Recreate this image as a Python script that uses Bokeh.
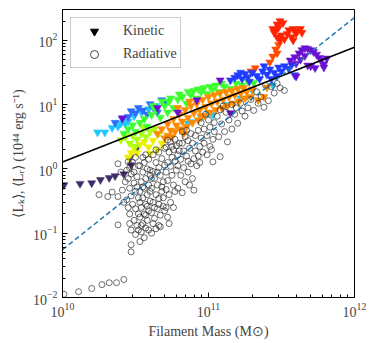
from bokeh.plotting import figure
from bokeh.models import (ColumnDataSource, Legend, LegendItem, Range1d,
                          FixedTicker, LogTickFormatter)
from bokeh.embed import file_html
from bokeh.resources import INLINE

# ---------------- data (log10 of mass [Msun] and luminosity [1e44 erg/s]) -------------
# Kinetic luminosity, grouped by marker colour
dpurple_m = [10.01, 10.12, 10.20, 10.26, 10.32, 10.36, 10.42, 10.47, 10.46, 10.51]
dpurple_l = [-0.25, -0.23, -0.22, -0.17, -0.14, -0.11, -0.08, 0.06, 0.17, 0.33]

cyan_m = [10.24, 10.29, 10.34, 10.40, 10.45, 10.49, 10.54, 10.59, 10.64, 10.38, 10.43,
          11.00, 10.86, 10.89, 10.95, 11.03, 11.12, 11.22, 11.30, 11.44]
cyan_l = [0.57, 0.57, 0.64, 0.71, 0.74, 0.82, 0.88, 0.93, 0.98, 0.66, 0.70,
          0.87, 0.71, 0.73, 0.80, 0.84, 1.00, 1.10, 1.22, 1.30]

bleft_m = [10.45, 10.50, 10.55, 10.60, 10.68, 10.36, 10.41, 10.47, 10.52, 10.62, 10.65, 10.58, 10.70]
bleft_l = [0.81, 0.87, 0.91, 1.01, 1.07, 0.72, 0.78, 0.90, 0.95, 0.96, 0.88, 0.85, 1.02]

green_m = [10.42, 10.45, 10.48, 10.50, 10.53, 10.56, 10.58, 10.61, 10.64, 10.67, 10.70, 10.73,
           10.76, 10.79, 10.82, 10.85, 10.88, 10.92, 10.95, 10.99, 11.03, 11.07, 11.11, 11.15,
           11.19, 11.23, 11.27, 11.31, 10.72, 10.90,
           10.62, 10.68, 10.74, 10.80, 10.86, 10.93, 10.97, 11.01, 11.05, 11.09]
green_l = [0.55, 0.62, 0.68, 0.58, 0.72, 0.78, 0.66, 0.84, 0.92, 0.80, 0.98, 1.05,
           0.95, 1.08, 1.12, 1.02, 1.15, 1.10, 1.20, 1.17, 1.24, 1.20, 1.28, 1.25,
           1.33, 1.30, 1.36, 1.34, 0.88, 1.22,
           0.98, 1.05, 1.10, 1.16, 1.20, 1.24, 1.26, 1.28, 1.30, 1.33]

lime_m = [10.40, 10.43, 10.46, 10.48, 10.51, 10.54, 10.57, 10.60, 10.63, 10.66, 10.55, 10.50]
lime_l = [0.45, 0.50, 0.40, 0.52, 0.46, 0.55, 0.50, 0.58, 0.62, 0.55, 0.65, 0.35]

yellow_m = [10.47, 10.49, 10.51, 10.53, 10.56, 10.59, 10.62, 10.65, 10.68, 10.60, 10.45]
yellow_l = [0.25, 0.33, 0.25, 0.38, 0.42, 0.34, 0.44, 0.30, 0.40, 0.24, 0.18]

orange_m = [10.65, 10.68, 10.70, 10.72, 10.74, 10.76, 10.78, 10.80, 10.82, 10.84, 10.86, 10.88,
            10.90, 10.92, 10.94, 10.96, 10.98, 11.00, 11.02, 11.04, 11.06, 11.08, 11.10, 11.12,
            11.14, 11.16, 11.18, 11.20, 11.22, 11.24, 11.26, 11.30, 11.34, 11.38, 10.83, 10.75,
            10.79, 10.87, 10.95, 11.05, 11.40,
            10.72, 10.77, 10.81, 10.85, 10.89, 10.93, 10.97, 11.01, 11.09, 11.13, 11.17, 11.21,
            11.25, 11.29]
orange_l = [0.55, 0.62, 0.48, 0.70, 0.60, 0.78, 0.68, 0.85, 0.74, 0.92, 0.80, 0.98,
            0.87, 1.02, 0.92, 1.08, 0.97, 1.12, 1.02, 1.15, 1.05, 1.18, 1.08, 1.20,
            1.12, 1.22, 1.15, 1.25, 1.18, 1.26, 1.20, 1.24, 1.07, 1.12, 0.55, 0.50,
            0.95, 1.05, 0.82, 0.92, 1.27,
            0.52, 0.58, 0.62, 0.66, 0.72, 0.76, 0.83, 0.88, 0.95, 0.98, 1.02, 1.05,
            1.10, 1.12]

dorange_m = [11.42, 11.44, 11.46, 11.48, 11.47, 11.29, 11.32]
dorange_l = [1.66, 1.75, 1.86, 1.93, 1.80, 1.52, 1.57]

red_m = [11.47, 11.49, 11.51, 11.48, 11.44, 11.45, 11.46, 11.47, 11.50, 11.52, 11.54, 11.49,
         11.55, 11.58, 11.61, 11.63, 11.64, 11.60, 11.57, 11.58]
red_l = [2.25, 2.30, 2.27, 2.20, 2.18, 2.12, 2.15, 2.05, 2.08, 2.02, 2.10, 2.00,
         2.16, 2.18, 2.15, 2.18, 2.12, 2.11, 2.05, 2.00]

blue_m = [11.15, 11.18, 11.20, 11.23, 11.25, 11.27, 11.30, 11.33, 11.35, 11.37, 11.40, 11.42,
          11.45, 11.48, 11.50, 11.52, 11.55, 11.57, 11.59, 11.43, 11.28, 11.38, 11.22, 11.47]
blue_l = [1.38, 1.42, 1.46, 1.40, 1.48, 1.43, 1.50, 1.45, 1.40, 1.52, 1.47, 1.55,
          1.50, 1.58, 1.52, 1.60, 1.56, 1.62, 1.46, 1.40, 1.36, 1.60, 1.50, 1.45]

violet_m = [11.56, 11.59, 11.62, 11.64, 11.66, 11.68, 11.70, 11.72, 11.74, 11.76, 11.77, 11.79,
            11.79, 11.73, 11.70, 11.68, 11.81, 11.60, 11.63, 11.66,
            11.08, 10.41, 10.65, 10.92, 10.79, 11.15, 11.60]
violet_l = [1.69, 1.74, 1.80, 1.85, 1.88, 1.87, 1.85, 1.82, 1.78, 1.73, 1.69, 1.63,
            1.58, 1.57, 1.60, 1.61, 1.72, 1.64, 1.70, 1.76,
            1.38, 0.79, 0.95, 1.07, 0.88, 0.87, 1.44]

kin_groups = [
    (dpurple_m, dpurple_l, "#3f2d6b"),
    (cyan_m, cyan_l, "#1ec8ff"),
    (bleft_m, bleft_l, "#2a6dff"),
    (yellow_m, yellow_l, "#eef000"),
    (lime_m, lime_l, "#a8ff10"),
    (green_m, green_l, "#3cff30"),
    (orange_m, orange_l, "#ff8a00"),
    (dorange_m, dorange_l, "#ff4a00"),
    (red_m, red_l, "#ff2200"),
    (blue_m, blue_l, "#1f3cff"),
    (violet_m, violet_l, "#6a10d2"),
]

# Radiative luminosity
rad_m = [10.01, 10.11, 10.20, 10.27, 10.32, 10.37, 10.42,
         10.25, 10.31, 10.34, 10.38, 10.38, 10.41, 10.42, 10.40, 10.38, 10.43,
         10.45, 10.46, 10.47, 10.48, 10.45, 10.49, 10.46, 10.50, 10.47, 10.51, 10.44, 10.48, 10.50,
         10.46, 10.49, 10.51, 10.47, 10.50, 10.47, 10.47, 10.52, 10.50, 10.45, 10.52, 10.52, 10.49,
         10.51, 10.44, 10.52, 10.46,
         10.53, 10.56, 10.54, 10.57, 10.55, 10.58, 10.53, 10.56, 10.59, 10.54, 10.57, 10.60, 10.55,
         10.58, 10.53, 10.56, 10.59, 10.54, 10.57, 10.60, 10.55, 10.58, 10.53, 10.56, 10.59, 10.57,
         10.54, 10.59, 10.58, 10.55, 10.60, 10.53, 10.57, 10.60, 10.55,
         10.61, 10.64, 10.62, 10.66, 10.63, 10.67, 10.61, 10.65, 10.69, 10.62, 10.66, 10.64, 10.68,
         10.61, 10.65, 10.69, 10.63, 10.67, 10.62, 10.66, 10.70, 10.64, 10.68, 10.62, 10.66, 10.70,
         10.67, 10.63, 10.69, 10.61, 10.65, 10.68, 10.64, 10.70, 10.66,
         10.72, 10.71, 10.74, 10.73, 10.77, 10.76, 10.72, 10.79, 10.75, 10.71, 10.78, 10.74, 10.72,
         10.77, 10.75, 10.79, 10.73, 10.76, 10.71, 10.78, 10.74, 10.77, 10.80, 10.80, 10.73, 10.76,
         10.71, 10.79, 10.75, 10.72,
         10.82, 10.87, 10.90, 10.84, 10.81, 10.86, 10.83, 10.88, 10.81, 10.85, 10.90, 10.83, 10.87,
         10.91, 10.82, 10.86, 10.89, 10.84, 10.88, 10.91, 10.85, 10.82, 10.89, 10.92, 10.86,
         10.93, 10.96, 10.99, 11.03, 10.94, 10.97, 11.01, 10.95, 10.99, 11.03, 10.93, 10.97, 11.01,
         11.04, 10.95, 11.00, 11.04, 10.98, 11.02, 10.94,
         11.08, 11.13, 11.07, 11.11, 11.16, 11.09, 11.14, 11.20, 11.06, 11.12, 11.18, 11.23, 11.10,
         11.16, 11.22, 11.25, 11.19, 11.08,
         11.27, 11.31, 11.38, 11.34, 11.29, 11.36, 11.41, 11.45, 11.49, 11.52, 11.43, 11.33, 11.39,
         11.47]
rad_l = [-1.95, -1.91, -1.86, -1.80, -1.77, -1.77, -1.72,
         -0.40, -0.43, -0.36, -0.43, -0.87, -0.33, -0.52, -0.05, 0.08, -0.20,
         0.11, 0.02, -0.08, 0.10, -0.15, -0.22, -0.30, -0.35, -0.42, -0.12, -0.48, -0.55, -0.62,
         -0.70, -0.80, -0.88, -0.95, -1.02, -1.18, -1.29, 0.05, 0.18, -0.60, -0.45, -0.70, -0.05,
         -0.28, -0.02, -0.95, -0.85,
         -1.13, -1.07, -0.98, -0.92, -0.85, -0.80, -0.75, -0.70, -0.65, -0.60, -0.55, -0.50, -0.45,
         -0.40, -0.35, -0.30, -0.25, -0.20, -0.15, -0.10, -0.05, 0.00, 0.05, 0.10, 0.15, 0.22,
         -0.88, -0.95, -0.58, -0.28, -0.35, -0.52, -0.72, -0.02, 0.18,
         -1.00, -0.93, -0.85, -0.88, -0.77, -0.72, -0.68, -0.62, -0.58, -0.52, -0.46, -0.40, -0.35,
         -0.30, -0.25, -0.20, -0.15, -0.10, -0.04, 0.02, 0.06, 0.10, 0.16, 0.22, 0.26, 0.32,
         -0.90, -0.60, -0.45, -0.15, -0.05, -0.28, 0.30, -0.65, -0.55,
         -0.75, -0.60, -0.52, -0.40, -0.35, -0.25, -0.18, -0.30, -0.10, -0.05, -0.02, 0.04, 0.10,
         0.12, 0.18, 0.22, 0.26, 0.30, 0.34, 0.36, 0.42, 0.46, 0.28, 0.40, -0.85, -0.60,
         -0.32, 0.05, 0.35, 0.45,
         -0.37, -0.25, -0.33, -0.20, -0.10, -0.05, 0.02, 0.08, 0.15, 0.20, 0.16, 0.28, 0.32,
         0.28, 0.40, 0.44, 0.40, 0.50, 0.55, 0.52, 0.60, 0.58, -0.15, 0.05, 0.12,
         0.20, 0.26, 0.22, 0.11, 0.35, 0.40, 0.35, 0.48, 0.52, 0.46, 0.60, 0.62, 0.65,
         0.58, 0.72, 0.76, 0.72, 0.85, 0.30, 0.10,
         0.19, 0.42, 0.50, 0.58, 0.62, 0.70, 0.76, 0.71, 0.82, 0.88, 0.85, 0.90, 0.98,
         1.00, 1.02, 0.82, 0.95, 0.92,
         0.95, 0.91, 0.96, 1.02, 1.08, 1.12, 1.06, 1.18, 1.26, 1.22, 1.28, 1.20, 1.30,
         1.33]

# Power-law fits (end points)
fit_mass = [1e10, 1e12]
fit_kinetic = [1.28, 78.0]
fit_radiative = [0.0555, 227.0]

x_range_vals = (1e10, 1e12)
y_range_vals = (1e-2, 302.0)
x_major_ticks = [1e10, 1e11, 1e12]
y_major_ticks = [1e-2, 1e-1, 1e0, 1e1, 1e2]

# ---------------- build sources ----------------
km, kl, kc = [], [], []
for gm, gl, col in kin_groups:
    km += [10 ** v for v in gm]
    kl += [10 ** v for v in gl]
    kc += [col] * len(gm)
kin_src = ColumnDataSource(dict(m=km, l=kl, c=kc))
rad_src = ColumnDataSource(dict(m=[10 ** v for v in rad_m], l=[10 ** v for v in rad_l]))

x_minor = [t * k for t in x_major_ticks[:-1] for k in range(2, 10)]
y_minor = [t * k for t in y_major_ticks for k in range(2, 10) if t * k <= y_range_vals[1]]

SERIF = "Liberation Serif"

p = figure(width=370, height=341, x_axis_type="log", y_axis_type="log",
           x_range=Range1d(*x_range_vals), y_range=Range1d(*y_range_vals),
           output_backend="svg", toolbar_location=None,
           min_border_left=62, min_border_right=16, min_border_top=9, min_border_bottom=43)

p.scatter("m", "l", source=kin_src, marker="inverted_triangle", size=8,
          fill_color="c", line_color="c", line_width=0.5)
p.scatter("m", "l", source=rad_src, marker="circle", size=6, fill_color=None,
          line_color="#222222", line_alpha=0.65, line_width=1)

p.line(fit_mass, fit_kinetic, line_color="black", line_width=1.5)
p.line(fit_mass, fit_radiative, line_color="#1f77b4", line_width=1.5, line_dash="5 3")

# legend proxies (not drawn inside the plot: NaN coordinates)
nan = float("nan")
lk = p.scatter([nan], [nan], marker="inverted_triangle", size=8, color="black")
lr = p.scatter([nan], [nan], marker="circle", size=6, fill_color=None,
               line_color="#444444", line_width=1)
legend = Legend(items=[LegendItem(label="Kinetic", renderers=[lk]),
                       LegendItem(label="Radiative", renderers=[lr])],
                location="top_left", label_text_font=SERIF, label_text_font_size="14px",
                border_line_color="#cccccc", border_line_alpha=1.0,
                background_fill_alpha=0.85, padding=3, margin=8,
                glyph_width=40, glyph_height=20, label_height=20,
                label_standoff=9, spacing=3)
p.add_layout(legend)

p.grid.visible = False
p.outline_line_color = "black"
p.outline_line_alpha = 1.0
p.outline_line_width = 1
p.background_fill_color = "white"
p.border_fill_color = "white"

p.xaxis[0].ticker = FixedTicker(ticks=x_major_ticks, minor_ticks=x_minor)
p.yaxis[0].ticker = FixedTicker(ticks=y_major_ticks, minor_ticks=y_minor)
p.xaxis[0].formatter = LogTickFormatter()
p.yaxis[0].formatter = LogTickFormatter()

for ax in (p.xaxis[0], p.yaxis[0]):
    ax.major_tick_in = 5
    ax.major_tick_out = 0
    ax.minor_tick_in = 3
    ax.minor_tick_out = 0
    ax.axis_line_color = "black"
    ax.major_label_text_font = SERIF
    ax.major_label_text_font_size = "14px"
    ax.axis_label_text_font = SERIF
    ax.axis_label_text_font_size = "14px"
    ax.axis_label_text_font_style = "normal"

p.xaxis[0].axis_label = "Filament Mass (M⊙)"
p.yaxis[0].axis_label = "⟨Lₖ⟩, ⟨Lᵣ⟩ (10⁴⁴ erg s⁻¹)"
p.xaxis[0].axis_label_standoff = 4
p.yaxis[0].axis_label_standoff = 4

open("out.html", "w").write(file_html(p, INLINE))
